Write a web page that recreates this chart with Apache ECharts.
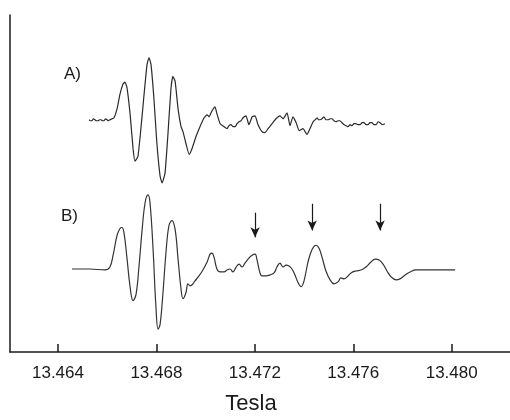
<!DOCTYPE html>
<html>
<head>
<meta charset="utf-8">
<script src="https://cdn.jsdelivr.net/npm/echarts@6/dist/echarts.min.js"></script>
<style>html,body{margin:0;padding:0;background:#fff}#c{width:510px;height:420px}</style>
</head>
<body>
<div id="c"></div>
<script>
// Field values (Tesla)
var tickValues = [13.464, 13.468, 13.472, 13.476, 13.480];
var xName = 'Tesla';
var labelA = 'A)';
var labelB = 'B)';

// Trace A (experimental, noisy) : [field T, signal]
var traceA = [
[13.46526,235],[13.46532,234],[13.46538,234],[13.46544,236],[13.46550,235],[13.46556,234],[13.46563,234],[13.46569,235],
[13.46575,235],[13.46581,234],[13.46587,234],[13.46593,236],[13.46599,235],[13.46605,234],[13.46611,235],[13.46620,236],
[13.46628,237],[13.46640,246],[13.46652,261],[13.46664,271],[13.46672,273],[13.46680,268],[13.46693,241],[13.46705,206],
[13.46713,193],[13.46725,198],[13.46737,226],[13.46750,261],[13.46762,291],[13.46770,298],[13.46778,291],[13.46790,256],
[13.46802,211],[13.46815,178],[13.46823,171],[13.46835,181],[13.46847,221],[13.46859,266],[13.46867,279],[13.46876,274],
[13.46888,246],[13.46900,228],[13.46908,223],[13.46920,211],[13.46933,200],[13.46945,206],[13.46961,218],[13.46977,228],
[13.46994,237],[13.47006,240],[13.47014,238],[13.47026,244],[13.47038,248],[13.47046,241],[13.47059,231],[13.47075,228],
[13.47087,226],[13.47095,229],[13.47103,230],[13.47112,228],[13.47120,228],[13.47128,231],[13.47136,233],[13.47144,234],
[13.47152,237],[13.47164,239],[13.47176,230],[13.47189,238],[13.47201,239],[13.47213,230],[13.47229,223],[13.47241,222],
[13.47254,226],[13.47270,231],[13.47286,236],[13.47302,239],[13.47315,236],[13.47331,242],[13.47343,229],[13.47355,238],
[13.47368,232],[13.47380,224],[13.47396,226],[13.47412,220],[13.47424,226],[13.47437,233],[13.47445,235],[13.47453,237],
[13.47459,235],[13.47465,235],[13.47473,236],[13.47481,238],[13.47489,235],[13.47498,235],[13.47506,236],[13.47514,236],
[13.47522,234],[13.47530,233],[13.47538,234],[13.47546,234],[13.47554,232],[13.47563,230],[13.47571,229],[13.47579,228],
[13.47587,230],[13.47595,229],[13.47603,231],[13.47611,231],[13.47620,230],[13.47628,230],[13.47636,232],[13.47644,232],
[13.47652,230],[13.47660,230],[13.47668,232],[13.47676,232],[13.47684,230],[13.47693,230],[13.47701,233],[13.47709,232],
[13.47717,230],[13.47729,231]
];

// Trace B (simulation) : [field T, signal]
var traceB = [
[13.46457,84],[13.46530,84],[13.46591,83],[13.46611,86],[13.46624,98],[13.46640,118],[13.46652,125],[13.46660,126],
[13.46668,121],[13.46680,96],[13.46693,66],[13.46705,52],[13.46717,58],[13.46729,86],[13.46741,121],[13.46754,151],
[13.46766,159],[13.46774,151],[13.46786,106],[13.46798,46],[13.46807,23],[13.46815,28],[13.46827,61],[13.46839,101],
[13.46851,128],[13.46863,133],[13.46876,124],[13.46888,94],[13.46900,64],[13.46908,54],[13.46920,60],[13.46928,69],
[13.46937,67],[13.46945,68],[13.46957,72],[13.46973,77],[13.46989,83],[13.47006,91],[13.47018,99],[13.47026,100],
[13.47034,96],[13.47046,84],[13.47059,81],[13.47075,81],[13.47087,83],[13.47099,84],[13.47111,81],[13.47124,86],
[13.47136,89],[13.47148,86],[13.47160,90],[13.47176,95],[13.47189,98],[13.47201,99],[13.47209,93],[13.47221,80],
[13.47229,77],[13.47246,77],[13.47262,78],[13.47278,80],[13.47290,86],[13.47302,90],[13.47315,86],[13.47327,88],
[13.47339,87],[13.47351,84],[13.47363,78],[13.47376,70],[13.47388,66],[13.47400,72],[13.47416,91],[13.47433,104],
[13.47449,108],[13.47461,105],[13.47473,96],[13.47489,82],[13.47506,73],[13.47522,69],[13.47538,71],[13.47550,75],
[13.47563,74],[13.47575,76],[13.47591,80],[13.47611,82],[13.47632,83],[13.47652,86],[13.47672,91],[13.47689,94],
[13.47705,93],[13.47721,89],[13.47737,82],[13.47754,76],[13.47774,73],[13.47790,74],[13.47811,78],[13.47831,81],
[13.47855,83],[13.47892,83],[13.47953,83],[13.48014,83]
];

// Arrows marking features: field position, start signal, end signal
var arrowX = [13.47201, 13.47433, 13.47709];
var arrowTop = [141, 150, 150];
var arrowBottom = [116, 123, 123];

var chart = echarts.init(document.getElementById('c'), null, {renderer: 'canvas'});
var ink = '#1a1a1a';
var arrowLines = arrowX.map(function (x, i) {
  return [{coord: [x, arrowTop[i]]}, {coord: [x, arrowBottom[i]]}];
});

chart.setOption({
  animation: false,
  backgroundColor: '#ffffff',
  grid: {left: 10, right: 0, top: 15, bottom: 64, containLabel: false},
  xAxis: {
    type: 'value',
    min: 13.46205,
    max: 13.48237,
    name: xName,
    nameLocation: 'middle',
    nameGap: 41,
    nameTextStyle: {fontFamily: 'Liberation Sans, Arial, sans-serif', fontSize: 22, color: ink, padding: [0, 18, 0, 0]},
    axisLine: {show: true, onZero: false, lineStyle: {color: ink, width: 1.5}},
    axisTick: {show: true, inside: true, length: 8, customValues: tickValues, lineStyle: {color: ink, width: 1.5}},
    axisLabel: {
      show: true, customValues: tickValues, margin: 13,
      fontFamily: 'Liberation Sans, Arial, sans-serif', fontSize: 17, color: ink,
      formatter: function (v) { return v.toFixed(3); }
    },
    splitLine: {show: false}
  },
  yAxis: {
    type: 'value',
    min: 0,
    max: 341,
    axisLine: {show: true, onZero: false, lineStyle: {color: ink, width: 1.5}},
    axisTick: {show: false},
    axisLabel: {show: false},
    splitLine: {show: false}
  },
  graphic: [
    {type: 'text', left: 64, top: 66, style: {text: labelA, fontFamily: 'Liberation Sans, Arial, sans-serif', fontSize: 17, fill: ink}},
    {type: 'text', left: 61, top: 208, style: {text: labelB, fontFamily: 'Liberation Sans, Arial, sans-serif', fontSize: 17, fill: ink}}
  ],
  series: [
    {
      type: 'line', data: traceA, showSymbol: false, smooth: 0.15,
      lineStyle: {color: '#2a2a2a', width: 1.2}
    },
    {
      type: 'line', data: traceB, showSymbol: false, smooth: 0.4,
      lineStyle: {color: '#333333', width: 1.2},
      markLine: {
        silent: true,
        symbol: ['none', 'arrow'],
        symbolSize: [7, 10],
        label: {show: false},
        lineStyle: {color: ink, width: 1.2, type: 'solid'},
        data: arrowLines
      }
    }
  ]
});
</script>
</body>
</html>
